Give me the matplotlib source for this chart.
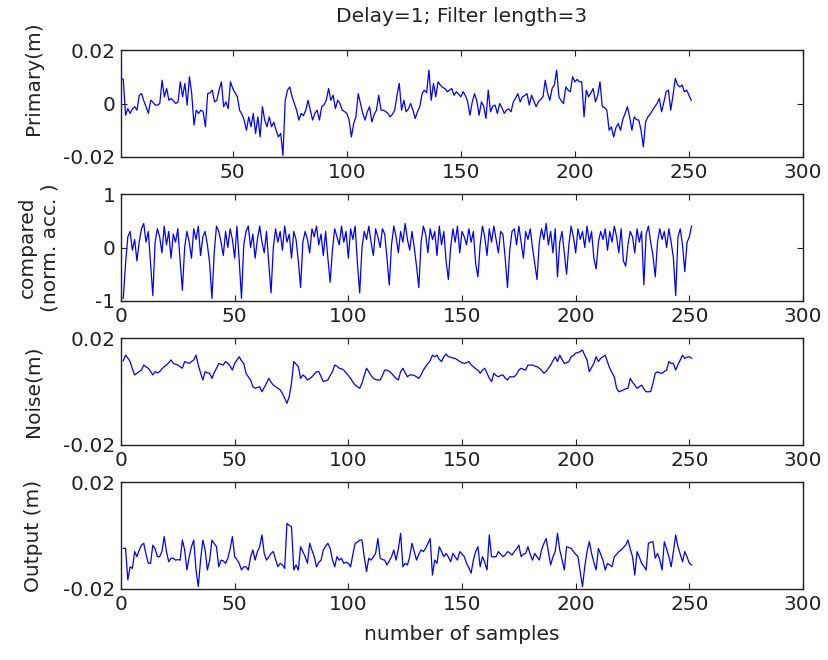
import numpy as np
import matplotlib
matplotlib.use("Agg")
import matplotlib.pyplot as plt

# values, one per sample (1..251)
# primary and noise and output are in mm, plotted in m
primary_mm = [
    9.4, 9.0, -4.4, -1.9, -3.7, -2.0, -1.2, -2.5, 3.1, 3.7,
    1.0, -1.2, -3.7, 1.2, 0.5, -0.6, -0.6, 0.0, 8.7, 2.5,
    5.6, 1.2, 1.9, 1.0, 0.0, 0.5, 8.1, 2.5, 7.5, -0.6,
    10.0, 3.7, -8.1, -2.5, -3.7, -2.5, -3.0, -8.7, 3.7, 4.0,
    5.0, 0.6, 1.2, 5.0, 8.1, -1.2, 0.6, -1.9, 8.1, 5.6,
    4.0, 2.5, -2.5, -4.0, -6.2, -10.0, -5.0, -8.7, -3.7, -11.2,
    -5.0, -12.5, -1.2, -6.2, -8.7, -5.0, -8.7, -7.0, -10.0, -12.5,
    -11.2, -19.4, 1.2, 5.0, 6.2, 2.5, 0.0, -2.5, -6.2, -3.7,
    -4.5, -2.5, 1.2, -2.5, -6.2, -3.7, -2.5, -6.2, -1.2, -0.5,
    1.2, 5.6, 1.2, 3.1, -1.9, 1.2, 0.0, -2.5, -3.0, -3.7,
    -6.2, -12.5, -7.5, -5.0, 3.7, 0.0, -3.7, -6.2, -3.0, -1.2,
    -6.9, -4.0, -2.5, 3.1, -2.5, -2.5, -3.0, -3.7, -5.0, -4.0,
    -2.5, 3.1, 7.5, -2.5, 1.2, -3.1, -2.0, 0.0, -2.5, -5.6,
    -3.0, -1.2, 3.7, 5.0, 4.0, 12.5, 1.2, 7.5, 2.5, 8.1,
    6.9, 6.0, 5.6, 4.4, 5.0, 5.6, 3.1, 4.4, 3.5, 2.5,
    4.4, 3.0, 0.6, -4.4, 0.6, 3.7, 1.0, -4.4, 0.6, -1.0,
    -5.6, 5.0, -3.1, -1.0, -0.6, -3.7, 0.0, -1.5, -3.7, -2.5,
    -2.0, -3.1, 0.6, 2.0, 3.7, 0.6, 2.5, 3.0, 3.7, -0.6,
    3.1, 1.0, -1.2, 0.6, 1.5, 2.5, 8.7, 4.0, 1.2, 5.6,
    7.0, 12.5, 2.5, 1.0, 0.0, 6.2, 5.0, 4.4, 10.0, 8.1,
    9.0, 8.1, 8.1, -5.0, 5.0, 2.5, 4.0, 5.6, 0.6, 3.0,
    8.1, -1.2, -1.5, -2.5, -10.0, -8.7, -12.5, -9.0, -7.5, -10.0,
    -6.0, -3.7, -1.2, -5.0, -10.0, -5.0, -6.0, -6.2, -10.0, -16.2,
    -6.9, -5.0, -4.0, -2.5, -1.2, 0.0, 1.9, -3.1, 0.5, 4.4,
    5.0, -2.5, 3.0, 9.4, 7.0, 6.2, 6.9, 4.4, 5.0, 3.1,
    1.2,
]

compared = [
    -0.95, -0.3, 0.2, 0.3, -0.05, 0.15, -0.25, 0.1, 0.35, 0.45, 0.1, 0.3, -0.3,
    -0.9, 0.1, 0.35, 0.2, -0.1, 0.4, 0.05, 0.3, -0.2, 0.25, 0.1, 0.35, -0.25,
    -0.8, 0.0, 0.3, 0.1, -0.2, 0.35, 0.15, 0.4, -0.15, 0.2, 0.3, 0.05, -0.3,
    -0.95, -0.1, 0.4, 0.3, 0.1, -0.15, 0.3, 0.0, 0.35, 0.15, -0.2, 0.4, -0.25,
    -0.95, 0.05, 0.3, 0.4, 0.0, 0.25, -0.2, 0.15, 0.4, 0.1, -0.1, 0.3, -0.3,
    -0.85, 0.0, 0.35, 0.1, 0.3, -0.05, 0.4, 0.1, 0.25, -0.2, 0.3, 0.15, -0.25,
    -0.75, 0.1, 0.3, 0.15, -0.1, 0.35, 0.2, 0.4, 0.05, 0.25, -0.15, 0.3, -0.2,
    -0.65, -0.05, 0.35, 0.2, 0.05, 0.4, 0.1, 0.3, -0.2, 0.35, 0.15, 0.4, -0.3,
    -0.85, 0.0, 0.3, 0.15, 0.4, 0.1, -0.15, 0.35, 0.2, 0.0, 0.35, 0.25, -0.2,
    -0.7, 0.05, 0.4, 0.2, -0.1, 0.3, 0.1, 0.45, 0.15, -0.05, 0.3, 0.0, -0.35,
    -0.75, 0.1, 0.4, 0.25, -0.1, 0.35, 0.15, 0.3, -0.15, 0.4, 0.05, 0.3, -0.25,
    -0.6, 0.0, 0.35, 0.1, 0.4, -0.1, 0.3, 0.2, 0.05, 0.35, 0.1, 0.3, -0.3,
    -0.55, 0.05, 0.4, 0.2, -0.15, 0.35, 0.1, 0.4, 0.15, -0.1, 0.3, 0.25, -0.2,
    -0.75, -0.05, 0.3, 0.35, 0.05, 0.4, 0.1, -0.2, 0.3, 0.15, 0.35, 0.0, -0.3,
    -0.6, 0.1, 0.35, 0.15, 0.45, 0.05, 0.3, -0.1, 0.35, -0.55, 0.1, 0.3, -0.1,
    -0.5, 0.05, 0.4, 0.2, -0.1, 0.35, 0.15, 0.3, 0.0, 0.4, 0.1, 0.3, -0.2,
    -0.4, 0.1, 0.3, 0.15, 0.35, -0.05, 0.3, 0.1, 0.4, 0.2, -0.1, 0.35, -0.25,
    -0.35, 0.05, 0.3, 0.2, -0.1, 0.35, 0.1, 0.3, -0.7, 0.25, 0.4, 0.1, -0.15,
    -0.55, 0.1, 0.35, 0.15, 0.3, 0.0, 0.35, 0.1, -0.2, -0.9, 0.2, 0.35, 0.05,
    -0.45, 0.1, 0.2, 0.4,
]

noise_mm = [
    11.5, 13.6, 12.5, 11.2, 8.5, 6.2, 6.8, 7.5, 8.0, 9.9,
    9.2, 8.7, 7.5, 6.2, 7.4, 7.0, 7.4, 8.5, 9.3, 9.9,
    10.8, 11.8, 10.5, 10.2, 9.9, 9.3, 8.7, 11.2, 10.8, 10.5,
    11.2, 11.8, 13.6, 9.9, 7.0, 4.3, 7.4, 7.0, 6.8, 4.9,
    7.0, 8.7, 10.5, 10.2, 9.9, 11.2, 10.5, 9.5, 8.0, 10.5,
    11.8, 13.0, 11.5, 10.5, 6.8, 5.5, 4.3, 1.8, 1.2, 1.5,
    1.8, -0.1, 1.5, 3.1, 4.9, 3.5, 2.4, 1.8, 1.2, 0.6,
    -0.7, -2.5, -4.4, -1.9, 3.1, 11.2, 10.2, 9.3, 4.9, 6.2,
    5.5, 4.3, 4.8, 5.5, 6.5, 7.4, 7.4, 5.5, 3.7, 4.0,
    4.3, 6.0, 7.4, 9.9, 9.5, 8.7, 8.5, 8.0, 7.0, 6.0,
    4.9, 3.5, 2.4, 1.8, 1.2, 3.1, 6.0, 8.7, 7.4, 6.0,
    4.9, 4.5, 4.3, 4.3, 6.0, 8.0, 8.0, 7.5, 6.8, 5.8,
    4.9, 4.3, 7.4, 8.7, 7.0, 5.5, 6.2, 6.2, 6.0, 5.5,
    4.9, 6.2, 8.0, 9.3, 10.5, 11.5, 13.6, 13.0, 13.6, 12.0,
    11.2, 13.0, 14.0, 13.0, 12.8, 12.5, 12.4, 11.8, 11.2, 10.8,
    10.5, 10.8, 11.2, 10.0, 9.3, 8.5, 8.0, 6.8, 8.0, 8.7,
    6.8, 5.0, 3.7, 6.8, 6.0, 5.5, 6.0, 6.2, 5.0, 4.3,
    5.5, 5.5, 5.5, 6.5, 8.0, 8.7, 8.3, 8.0, 9.9, 9.9,
    9.9, 9.5, 9.3, 8.7, 8.0, 6.8, 7.5, 8.7, 9.9, 11.5,
    13.0, 11.2, 13.6, 12.0, 10.5, 10.8, 11.2, 13.0, 13.5, 14.3,
    14.6, 14.9, 15.5, 13.5, 11.8, 7.4, 9.0, 10.5, 13.0, 11.2,
    12.4, 13.0, 13.6, 11.0, 8.7, 7.0, 5.5, 1.2, -0.1, 0.2,
    0.6, 1.0, 1.2, 4.9, 3.5, 2.4, 1.2, 1.8, 2.4, 1.0,
    -0.1, -0.1, 0.0, 3.1, 6.8, 7.4, 7.0, 6.8, 7.5, 8.0,
    11.2, 10.5, 10.5, 8.0, 10.0, 11.8, 13.6, 12.4, 12.8, 13.0,
    12.4,
]

output_mm = [
    -4.8, -4.8, -16.6, -11.7, -12.3, -6.0, -7.9, -5.5, -3.6, -2.9,
    -7.0, -10.4, -10.4, -3.6, -5.0, -7.9, -7.9, -6.0, -0.4, -6.0,
    -9.8, -8.5, -8.5, -9.2, -9.0, -9.2, -1.7, -5.4, -12.9, -8.0,
    -4.2, -1.7, -12.9, -19.1, -9.2, -1.7, -5.4, -12.9, -9.2, -1.7,
    -3.0, -4.2, -11.7, -9.2, -9.5, -10.4, -8.5, -5.0, -0.4, -7.9,
    -9.0, -10.4, -12.9, -11.7, -11.7, -12.9, -8.0, -5.4, -9.2, -6.0,
    -4.2, 0.2, -6.7, -9.2, -8.0, -6.7, -6.0, -9.0, -11.7, -10.4,
    -11.0, -12.3, 4.5, 3.8, 3.3, -12.9, -11.0, -12.9, -4.2, -6.0,
    -7.9, -10.4, -2.9, -5.5, -7.9, -11.7, -10.0, -9.2, -5.4, -4.0,
    -2.9, -4.8, -9.0, -11.7, -7.9, -9.2, -8.5, -10.4, -10.0, -10.4,
    -11.7, -7.0, -2.9, -2.5, -1.7, -1.7, -8.0, -13.5, -8.5, -9.2,
    -8.0, -6.7, -1.1, -8.5, -9.0, -9.2, -11.0, -9.5, -7.9, -5.4,
    -9.2, -5.0, 0.8, -11.7, -10.4, -11.0, -7.9, -2.9, -6.0, -9.2,
    -7.0, -5.4, -6.0, -4.8, -3.0, -1.1, -14.8, -9.2, -10.4, -4.2,
    -6.0, -7.9, -6.7, -8.0, -9.8, -6.7, -8.0, -9.2, -6.0, -7.0,
    -7.9, -10.4, -12.0, -14.1, -9.2, -6.0, -4.2, -11.7, -7.9, -10.0,
    -12.9, 0.2, -7.9, -8.0, -7.9, -6.0, -7.0, -7.9, -7.3, -6.0,
    -6.5, -7.3, -6.0, -5.0, -3.6, -7.9, -7.0, -6.7, -4.2, -7.0,
    -9.2, -6.7, -8.0, -9.2, -5.4, -3.0, -1.1, -6.0, -11.0, -8.0,
    -6.0, 0.8, -5.4, -9.0, -12.9, -4.2, -4.5, -4.8, -6.0, -7.0,
    -7.9, -13.5, -19.1, -11.7, -6.0, -2.3, -6.7, -10.0, -12.9, -4.8,
    -7.0, -9.2, -12.9, -10.4, -11.0, -11.7, -7.9, -7.0, -6.0, -5.4,
    -4.5, -3.6, -1.7, -5.0, -7.9, -14.8, -6.0, -8.0, -10.4, -11.5,
    -12.9, -2.9, -2.5, -2.3, -8.5, -6.7, -9.0, -12.9, -2.3, -5.0,
    -7.9, -11.7, -6.0, 0.2, -4.2, -7.0, -9.8, -6.0, -8.0, -10.4,
    -11.0,
]

title = "Delay=1; Filter length=3"
ylabels = ["Primary(m)", "compared\n(norm. acc. )", "Noise(m)", "Output (m)"]
xlabel = "number of samples"

samples = np.arange(1, len(primary_mm) + 1)
series = [
    np.array(primary_mm) / 1000,
    np.array(compared),
    np.array(noise_mm) / 1000,
    np.array(output_mm) / 1000,
]
yticks = [[-0.02, 0, 0.02], [-1, 0, 1], [-0.02, 0.02], [-0.02, 0.02]]
yticklabels = [["-0.02", "0", "0.02"], ["-1", "0", "1"],
               ["-0.02", "0.02"], ["-0.02", "0.02"]]
ylims = [(-0.02, 0.02), (-1, 1), (-0.02, 0.02), (-0.02, 0.02)]

plt.rcParams["font.family"] = "DejaVu Sans"
fig = plt.figure(figsize=(8.29, 6.6), dpi=100)

W, H = 829.0, 660.0
left, width = 121 / W, 682 / W
tops = [50, 194, 338, 482]
ax_h = 107 / H
label_y = [0.74, 0.5, 0.5, 0.5]
label_x = [-0.115, -0.09, -0.115, -0.115]

axes = []
for i in range(4):
    ax = fig.add_axes([left, 1 - (tops[i] + 107) / H, width, ax_h])
    ax.plot(samples, series[i], color="#0000ff", lw=0.9)
    ax.set_ylim(*ylims[i])
    ax.set_yticks(yticks[i])
    ax.set_yticklabels(yticklabels[i])
    if i == 0:
        ax.set_xlim(1, 300)
        ax.set_xticks([50, 100, 150, 200, 250, 300])
    else:
        ax.set_xlim(0, 300)
        ax.set_xticks([0, 50, 100, 150, 200, 250, 300])
    ax.tick_params(direction="in", length=4, width=0.8, top=True, right=True,
                   labelsize=14.5, pad=4, colors="#222222")
    for sp in ax.spines.values():
        sp.set_linewidth(1.0)
        sp.set_color("#222222")
    ax.set_ylabel(ylabels[i], fontsize=14.5, color="#222222", linespacing=1.25)
    ax.yaxis.set_label_coords(label_x[i], label_y[i])
    axes.append(ax)

axes[0].set_title(title, fontsize=14.5, color="#222222", pad=20)
axes[3].set_xlabel(xlabel, fontsize=14.5, color="#222222", labelpad=8)

fig.savefig("out.png", dpi=100)
